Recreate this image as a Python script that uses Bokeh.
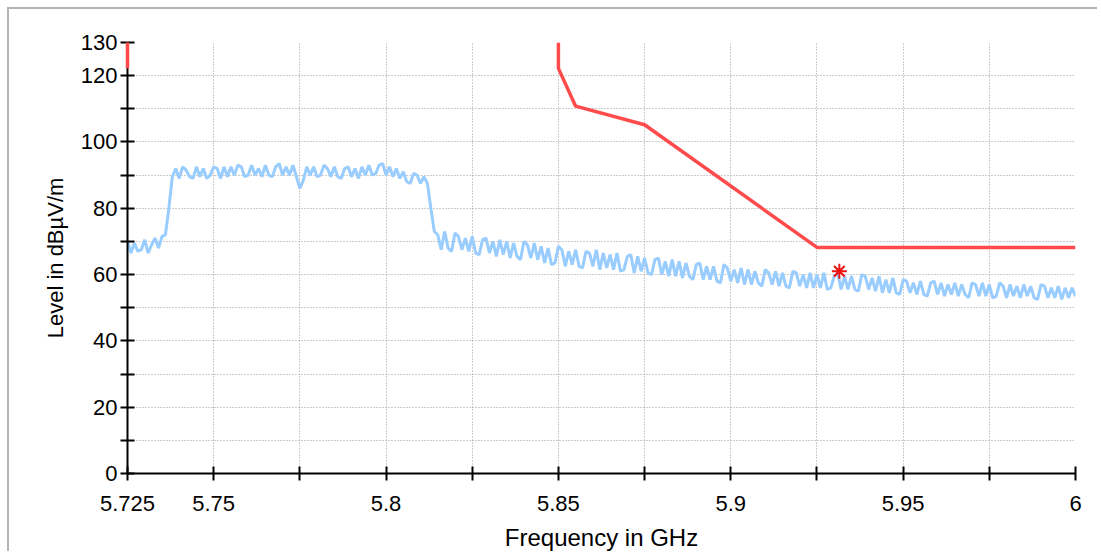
from bokeh.plotting import figure
from bokeh.models import FixedTicker, CustomJSTickFormatter, Range1d
from bokeh.embed import file_html
from bokeh.resources import INLINE

# ---- data ----
sweep_start_ghz = 5.725
sweep_step_ghz = 0.001
trace_level = [
    70.0, 66.5, 69.5, 67.0, 67.5, 70.5, 66.5, 69.0, 71.0, 68.0,
    71.5, 72.0, 80.0, 89.5, 92.0, 89.0, 92.5, 91.5, 89.5, 89.0,
    92.5, 89.5, 92.0, 89.0, 90.0, 92.5, 92.0, 89.0, 92.5, 89.5,
    92.5, 90.0, 93.0, 92.5, 89.5, 90.0, 93.0, 90.0, 92.0, 89.5,
    93.0, 90.0, 89.5, 92.5, 93.5, 90.0, 92.5, 90.0, 93.0, 89.5,
    86.0, 88.5, 92.5, 90.0, 92.5, 89.5, 90.0, 93.0, 92.0, 89.5,
    92.5, 89.5, 89.0, 92.0, 92.5, 89.5, 92.0, 89.0, 92.5, 90.0,
    93.0, 90.0, 90.5, 93.0, 93.5, 90.0, 92.5, 89.5, 92.0, 89.0,
    91.0, 88.0, 87.5, 90.5, 90.0, 87.5, 89.5, 87.5, 80.0, 73.0,
    72.0, 67.5, 73.0, 68.0, 67.0, 72.5, 71.5, 67.5, 71.0, 67.0,
    71.5, 66.5, 66.0, 70.5, 71.0, 66.5, 70.0, 65.5, 70.5, 66.0,
    70.0, 65.0, 69.5, 65.5, 64.5, 70.0, 69.0, 65.0, 69.5, 64.5,
    68.5, 63.5, 68.0, 63.0, 63.5, 68.5, 67.5, 62.5, 67.0, 63.0,
    67.5, 62.5, 62.0, 67.0, 66.5, 62.5, 67.5, 61.5, 66.5, 62.0,
    66.0, 61.5, 66.5, 61.0, 61.5, 65.5, 66.0, 60.5, 65.5, 61.0,
    65.0, 60.5, 60.0, 64.5, 65.0, 60.0, 64.0, 59.5, 64.5, 59.5,
    64.0, 59.0, 63.5, 59.5, 58.5, 63.0, 63.5, 58.5, 62.5, 58.5,
    62.5, 58.0, 57.5, 63.0, 62.0, 58.0, 61.5, 57.5, 62.0, 57.0,
    61.5, 57.0, 61.0, 57.5, 56.5, 61.5, 60.5, 57.0, 61.0, 56.5,
    60.5, 56.5, 56.0, 61.0, 60.5, 56.5, 60.0, 56.0, 60.5, 56.0,
    60.0, 56.0, 60.5, 55.5, 56.0, 59.5, 60.5, 55.5, 59.5, 55.5,
    59.5, 55.5, 55.0, 60.0, 59.5, 55.5, 59.0, 55.0, 59.5, 54.5,
    58.5, 54.5, 59.0, 54.5, 54.0, 58.5, 58.0, 54.5, 57.5, 54.0,
    58.0, 54.0, 53.5, 57.5, 58.0, 54.0, 57.5, 53.5, 57.0, 54.0,
    57.5, 53.5, 57.0, 54.0, 53.0, 57.5, 57.0, 53.5, 57.5, 53.5,
    57.0, 53.0, 53.5, 57.5, 56.5, 53.0, 57.0, 53.5, 56.5, 53.0,
    57.0, 53.5, 56.5, 53.0, 52.5, 57.0, 56.5, 53.0, 56.0, 53.0,
    56.5, 52.5, 56.0, 53.0, 56.0, 53.5,
]
trace_freq = [sweep_start_ghz + i * sweep_step_ghz for i in range(len(trace_level))]

limit_lower_freq = [5.725, 5.725]
limit_lower_level = [130.0, 122.2]
limit_upper_freq = [5.85, 5.85, 5.855, 5.875, 5.925, 6.0]
limit_upper_level = [130.0, 122.2, 110.8, 105.2, 68.2, 68.2]

peak_freq = [5.9315]
peak_level = [61.0]

x_ticks = [5.725, 5.75, 5.775, 5.8, 5.825, 5.85, 5.875, 5.9, 5.925, 5.95, 5.975, 6.0]
x_tick_labels = ["5.725", "5.75", "", "5.8", "", "5.85", "", "5.9", "", "5.95", "", "6"]
y_ticks = [0, 10, 20, 30, 40, 50, 60, 70, 80, 90, 100, 110, 120, 130]
y_tick_labels = ["0", "", "20", "", "40", "", "60", "", "80", "", "100", "", "120", "130"]

FONT = "Liberation Sans"

p = figure(width=1090, height=544, output_backend="svg", toolbar_location=None,
           x_range=Range1d(5.725, 6.0), y_range=Range1d(0, 130),
           min_border_left=118, min_border_right=24, min_border_top=33, min_border_bottom=79)
p.styles = {"margin-left": "7px", "margin-top": "7px",
            "border-left": "2px solid #b4b4b4", "border-top": "2px solid #b4b4b4"}
p.outline_line_color = None
p.background_fill_color = "white"
p.border_fill_color = "white"

fmt_code = ("const i = tvals.findIndex(t => Math.abs(t - tick) < 1e-9); "
            "return i >= 0 ? tlabels[i] : '';")
p.xaxis.ticker = FixedTicker(ticks=x_ticks)
p.xaxis.formatter = CustomJSTickFormatter(args=dict(tvals=x_ticks, tlabels=x_tick_labels), code=fmt_code)
p.yaxis.ticker = FixedTicker(ticks=y_ticks)
p.yaxis.formatter = CustomJSTickFormatter(args=dict(tvals=y_ticks, tlabels=y_tick_labels), code=fmt_code)

for ax in (p.xaxis, p.yaxis):
    ax.axis_line_width = 2
    ax.axis_line_color = "black"
    ax.major_tick_line_width = 2
    ax.major_tick_line_color = "black"
    ax.major_tick_in = 7
    ax.major_tick_out = 7
    ax.minor_tick_line_color = None
    ax.major_label_text_font = FONT
    ax.major_label_text_font_size = "22px"
    ax.major_label_text_color = "black"
    ax.axis_label_text_font = FONT
    ax.axis_label_text_font_style = "normal"
    ax.axis_label_text_color = "black"

p.xaxis.axis_label = "Frequency in GHz"
p.yaxis.axis_label = "Level in dBµV/m"
p.xaxis.axis_label_text_font_size = "24px"
p.yaxis.axis_label_text_font_size = "22px"
p.xaxis.major_label_standoff = 15
p.yaxis.major_label_standoff = 3
p.xaxis.axis_label_standoff = 10
p.yaxis.axis_label_standoff = 10

for g in (p.xgrid, p.ygrid):
    g.grid_line_color = "#9a9a9a"
    g.grid_line_dash = "1 2"
    g.grid_line_width = 1
p.xgrid.ticker = FixedTicker(ticks=x_ticks)
p.ygrid.ticker = FixedTicker(ticks=y_ticks)

p.line(trace_freq, trace_level, line_color="#99ccff", line_width=3)
p.line(limit_lower_freq, limit_lower_level, line_color="#ff4b4b", line_width=3.5, level="overlay")
p.line(limit_upper_freq, limit_upper_level, line_color="#ff4b4b", line_width=3.5)
p.scatter(peak_freq, peak_level, marker="asterisk", size=15, line_color="#ee1111", line_width=2)

open("out.html", "w").write(file_html(p, INLINE))
